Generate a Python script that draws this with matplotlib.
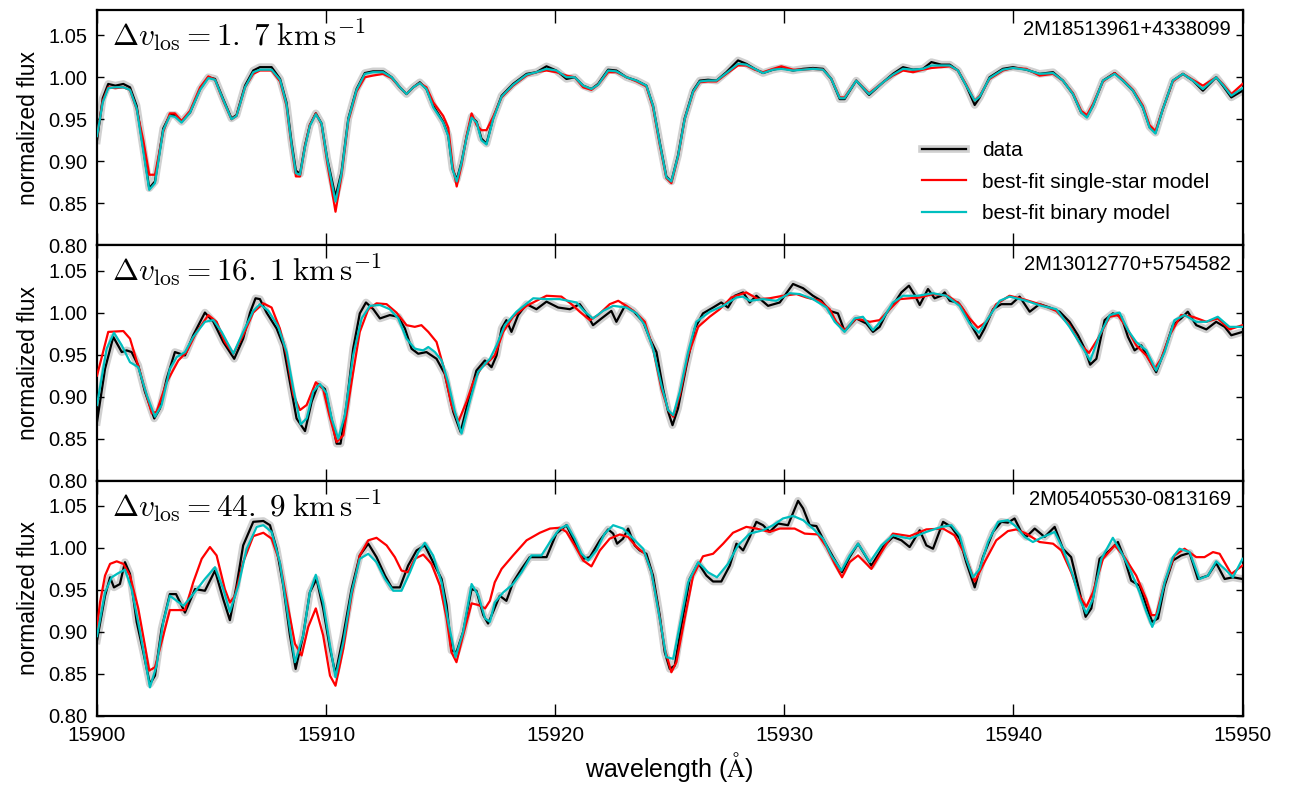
import numpy as np
import matplotlib
matplotlib.use("Agg")
import matplotlib.pyplot as plt

# ---------------- data ----------------
star_ids = ["2M18513961+4338099", "2M13012770+5754582", "2M05405530-0813169"]
dv_labels = [r"$\Delta v_{\rm los} = 1.\;7\;{\rm km\,s^{-1}}$",
             r"$\Delta v_{\rm los} = 16.\;1\;{\rm km\,s^{-1}}$",
             r"$\Delta v_{\rm los} = 44.\;9\;{\rm km\,s^{-1}}$"]
legend_labels = ["data", "best-fit single-star model", "best-fit binary model"]
x_ticks = [15900, 15910, 15920, 15930, 15940, 15950]
y_ticks = [0.80, 0.85, 0.90, 0.95, 1.00, 1.05]

# top panel: shared wavelength grid
wl_top = [
    15900.00, 15900.25, 15900.49, 15900.80, 15901.15, 15901.44, 15901.73, 15902.02, 15902.28, 15902.53,
    15902.89, 15903.18, 15903.40, 15903.69, 15904.06, 15904.50, 15904.86, 15905.15, 15905.51, 15905.87,
    15906.09, 15906.46, 15906.82, 15907.11, 15907.62, 15907.99, 15908.27, 15908.49, 15908.68, 15908.86,
    15909.08, 15909.29, 15909.55, 15909.80, 15910.05, 15910.41, 15910.67, 15910.97, 15911.33, 15911.69,
    15912.05, 15912.49, 15912.86, 15913.22, 15913.51, 15913.80, 15914.09, 15914.38, 15914.68, 15915.11,
    15915.33, 15915.52, 15915.70, 15915.91, 15916.13, 15916.35, 15916.57, 15916.78, 15917.00, 15917.29,
    15917.66, 15918.16, 15918.75, 15919.18, 15919.62, 15920.05, 15920.49, 15920.85, 15921.22, 15921.58,
    15921.87, 15922.31, 15922.67, 15923.11, 15923.55, 15923.98, 15924.27, 15924.56, 15924.85, 15925.07,
    15925.36, 15925.65, 15926.02, 15926.31, 15926.67, 15927.04, 15927.47, 15927.98, 15928.34, 15928.71,
    15929.07, 15929.51, 15929.87, 15930.38, 15930.82, 15931.25, 15931.69, 15932.05, 15932.42, 15932.63,
    15933.14, 15933.70, 15934.31, 15934.74, 15935.18, 15935.62, 15936.05, 15936.42, 15936.85, 15937.22,
    15937.58, 15937.94, 15938.31, 15938.53, 15938.96, 15939.54, 15939.98, 15940.56, 15941.14, 15941.73,
    15942.16, 15942.60, 15942.96, 15943.21, 15943.47, 15943.91, 15944.42, 15944.78, 15945.22, 15945.65,
    15945.94, 15946.20, 15946.52, 15946.96, 15947.40, 15947.83, 15948.27, 15948.85, 15949.14, 15949.51,
    15950.00]
flux_top_data = [
    0.925, 0.975, 0.992, 0.990, 0.992, 0.988, 0.966, 0.915, 0.868, 0.876,
    0.939, 0.955, 0.955, 0.947, 0.958, 0.986, 1.000, 0.998, 0.974, 0.951,
    0.955, 0.990, 1.008, 1.012, 1.012, 0.998, 0.970, 0.923, 0.889, 0.885,
    0.919, 0.943, 0.957, 0.945, 0.903, 0.858, 0.887, 0.951, 0.986, 1.005,
    1.007, 1.007, 1.000, 0.988, 0.980, 0.988, 0.994, 0.986, 0.966, 0.947,
    0.931, 0.891, 0.878, 0.899, 0.929, 0.953, 0.947, 0.927, 0.921, 0.951,
    0.978, 0.992, 1.004, 1.006, 1.013, 1.008, 0.998, 1.000, 0.990, 0.986,
    0.992, 1.009, 1.008, 1.000, 0.996, 0.990, 0.966, 0.923, 0.882, 0.876,
    0.907, 0.951, 0.984, 0.996, 0.997, 0.996, 1.006, 1.020, 1.016, 1.010,
    1.005, 1.009, 1.011, 1.008, 1.010, 1.011, 1.010, 0.998, 0.974, 0.974,
    0.996, 0.979, 0.994, 1.004, 1.012, 1.009, 1.010, 1.018, 1.015, 1.015,
    1.008, 0.990, 0.967, 0.976, 1.000, 1.010, 1.012, 1.009, 1.004, 1.006,
    0.996, 0.980, 0.958, 0.953, 0.966, 0.996, 1.005, 0.996, 0.984, 0.964,
    0.941, 0.934, 0.962, 0.996, 1.004, 0.996, 0.984, 1.000, 0.990, 0.976,
    0.984]
flux_top_single = [
    0.930, 0.972, 0.988, 0.987, 0.988, 0.985, 0.962, 0.925, 0.884, 0.884,
    0.935, 0.957, 0.957, 0.948, 0.960, 0.988, 1.001, 0.997, 0.972, 0.950,
    0.954, 0.988, 1.004, 1.008, 1.008, 0.995, 0.966, 0.918, 0.882, 0.882,
    0.918, 0.943, 0.957, 0.944, 0.898, 0.840, 0.882, 0.948, 0.983, 1.000,
    1.002, 1.004, 0.999, 0.988, 0.980, 0.988, 0.993, 0.988, 0.970, 0.954,
    0.940, 0.895, 0.870, 0.895, 0.930, 0.957, 0.943, 0.937, 0.937, 0.953,
    0.976, 0.990, 1.002, 1.006, 1.008, 1.006, 1.002, 1.000, 0.988, 0.985,
    0.991, 1.006, 1.006, 1.000, 0.995, 0.989, 0.964, 0.920, 0.880, 0.874,
    0.905, 0.950, 0.982, 0.994, 0.995, 0.995, 1.004, 1.014, 1.014, 1.009,
    1.006, 1.010, 1.013, 1.009, 1.009, 1.010, 1.009, 0.998, 0.976, 0.976,
    0.996, 0.981, 0.994, 1.002, 1.008, 1.006, 1.009, 1.011, 1.012, 1.013,
    1.008, 0.991, 0.972, 0.978, 0.998, 1.008, 1.011, 1.010, 1.002, 1.004,
    0.996, 0.981, 0.960, 0.955, 0.968, 0.995, 1.005, 0.997, 0.985, 0.966,
    0.943, 0.936, 0.962, 0.995, 1.004, 0.997, 0.990, 1.000, 0.992, 0.980,
    0.992]
flux_top_binary = [
    0.930, 0.970, 0.987, 0.988, 0.988, 0.985, 0.963, 0.912, 0.866, 0.874,
    0.937, 0.954, 0.953, 0.946, 0.958, 0.985, 0.999, 0.997, 0.973, 0.950,
    0.954, 0.988, 1.006, 1.009, 1.009, 0.997, 0.968, 0.920, 0.886, 0.884,
    0.917, 0.942, 0.956, 0.945, 0.902, 0.852, 0.885, 0.950, 0.985, 1.004,
    1.006, 1.006, 1.000, 0.988, 0.980, 0.988, 0.993, 0.986, 0.964, 0.946,
    0.930, 0.890, 0.876, 0.898, 0.928, 0.952, 0.946, 0.925, 0.920, 0.950,
    0.977, 0.991, 1.003, 1.006, 1.010, 1.008, 1.000, 1.000, 0.990, 0.986,
    0.991, 1.008, 1.007, 1.000, 0.996, 0.990, 0.966, 0.922, 0.881, 0.876,
    0.906, 0.950, 0.983, 0.995, 0.996, 0.996, 1.005, 1.016, 1.015, 1.010,
    1.005, 1.009, 1.010, 1.008, 1.009, 1.010, 1.009, 0.998, 0.975, 0.975,
    0.996, 0.980, 0.994, 1.003, 1.010, 1.009, 1.010, 1.014, 1.014, 1.014,
    1.008, 0.990, 0.972, 0.977, 0.999, 1.009, 1.011, 1.009, 1.004, 1.005,
    0.996, 0.980, 0.958, 0.952, 0.966, 0.996, 1.004, 0.996, 0.984, 0.964,
    0.940, 0.933, 0.962, 0.996, 1.004, 0.996, 0.986, 1.000, 0.991, 0.978,
    0.987]

# middle panel: (wavelength, flux) points per series
mid_data = [
    (15900.00, 0.870), (15900.35, 0.933), (15900.71, 0.971), (15901.08, 0.953), (15901.29, 0.955),
    (15901.51, 0.953), (15901.80, 0.937), (15902.09, 0.906), (15902.50, 0.874), (15902.75, 0.886),
    (15903.04, 0.921), (15903.40, 0.953), (15903.84, 0.949), (15904.20, 0.973), (15904.71, 1.000),
    (15905.08, 0.989), (15905.51, 0.965), (15905.99, 0.945), (15906.38, 0.969), (15906.68, 1.000),
    (15906.92, 1.017), (15907.11, 1.016), (15907.40, 1.000), (15907.84, 0.981), (15908.13, 0.961),
    (15908.42, 0.917), (15908.71, 0.874), (15909.08, 0.859), (15909.37, 0.894), (15909.66, 0.915),
    (15909.95, 0.909), (15910.17, 0.882), (15910.46, 0.844), (15910.63, 0.844), (15910.89, 0.890),
    (15911.18, 0.957), (15911.47, 0.999), (15911.74, 1.012), (15912.06, 1.004), (15912.35, 0.993),
    (15912.78, 0.997), (15913.15, 0.995), (15913.44, 0.981), (15913.73, 0.957), (15914.02, 0.951),
    (15914.38, 0.953), (15914.82, 0.945), (15915.18, 0.927), (15915.55, 0.882), (15915.87, 0.858),
    (15916.20, 0.894), (15916.56, 0.931), (15916.93, 0.943), (15917.22, 0.935), (15917.44, 0.949),
    (15917.66, 0.981), (15917.87, 0.991), (15918.09, 0.977), (15918.38, 0.997), (15918.75, 1.010),
    (15919.18, 1.004), (15919.62, 1.013), (15920.13, 1.006), (15920.64, 1.004), (15921.07, 1.010),
    (15921.36, 0.999), (15921.65, 0.985), (15922.02, 0.993), (15922.45, 1.002), (15922.67, 0.989),
    (15923.04, 1.008), (15923.40, 1.002), (15923.84, 0.989), (15924.13, 0.969), (15924.42, 0.953),
    (15924.71, 0.909), (15924.93, 0.882), (15925.12, 0.866), (15925.36, 0.886), (15925.73, 0.937),
    (15926.09, 0.981), (15926.45, 0.999), (15926.89, 1.006), (15927.25, 1.012), (15927.54, 1.006),
    (15927.84, 1.020), (15928.20, 1.024), (15928.49, 1.012), (15928.78, 1.020), (15929.29, 1.008),
    (15929.80, 1.012), (15930.38, 1.034), (15930.82, 1.029), (15931.25, 1.020), (15931.62, 1.014),
    (15931.98, 1.002), (15932.34, 0.999), (15932.63, 0.978), (15933.14, 0.993), (15933.58, 0.987),
    (15933.87, 0.977), (15934.16, 0.983), (15934.45, 0.999), (15934.82, 1.012), (15935.11, 1.024),
    (15935.44, 1.032), (15935.69, 1.021), (15935.91, 1.009), (15936.27, 1.028), (15936.56, 1.017),
    (15936.85, 1.020), (15937.00, 1.024), (15937.22, 1.014), (15937.58, 1.012), (15937.80, 1.004),
    (15938.16, 0.985), (15938.50, 0.969), (15938.74, 0.981), (15939.11, 1.004), (15939.47, 1.010),
    (15939.91, 1.010), (15940.27, 1.019), (15940.71, 1.001), (15941.14, 1.010), (15941.58, 1.006),
    (15942.02, 1.001), (15942.45, 0.989), (15942.82, 0.973), (15943.11, 0.957), (15943.35, 0.938),
    (15943.62, 0.945), (15943.98, 0.991), (15944.34, 0.999), (15944.71, 0.995), (15945.00, 0.971),
    (15945.29, 0.955), (15945.58, 0.961), (15945.87, 0.947), (15946.23, 0.929), (15946.60, 0.955),
    (15946.96, 0.985), (15947.32, 0.993), (15947.61, 1.001), (15947.98, 0.985), (15948.42, 0.980),
    (15948.85, 0.989), (15949.22, 0.983), (15949.51, 0.973), (15950.00, 0.977)]
mid_single = [
    (15900.00, 0.925), (15900.49, 0.977), (15901.15, 0.978), (15901.44, 0.969), (15901.88, 0.929),
    (15902.39, 0.880), (15902.60, 0.882), (15903.04, 0.917), (15903.55, 0.943), (15903.91, 0.953),
    (15904.35, 0.977), (15904.86, 0.997), (15905.22, 0.989), (15905.58, 0.965), (15905.95, 0.951),
    (15906.38, 0.973), (15906.82, 1.000), (15907.26, 1.011), (15907.62, 1.006), (15907.98, 0.981),
    (15908.28, 0.949), (15908.57, 0.902), (15908.86, 0.884), (15909.15, 0.890), (15909.55, 0.917),
    (15909.87, 0.909), (15910.14, 0.878), (15910.46, 0.846), (15910.75, 0.854), (15911.11, 0.917),
    (15911.47, 0.977), (15911.84, 1.004), (15912.20, 1.011), (15912.64, 1.010), (15913.07, 1.000),
    (15913.51, 0.985), (15913.87, 0.983), (15914.16, 0.985), (15914.46, 0.977), (15914.82, 0.965),
    (15915.11, 0.937), (15915.47, 0.890), (15915.77, 0.870), (15916.13, 0.894), (15916.42, 0.917),
    (15916.78, 0.935), (15917.07, 0.941), (15917.36, 0.949), (15917.73, 0.977), (15918.16, 0.995),
    (15918.75, 1.008), (15919.18, 1.014), (15919.62, 1.020), (15920.27, 1.019), (15920.71, 1.010),
    (15921.07, 1.001), (15921.51, 0.991), (15921.87, 0.997), (15922.38, 1.010), (15922.75, 1.014),
    (15923.11, 1.008), (15923.55, 0.999), (15923.91, 0.989), (15924.27, 0.957), (15924.64, 0.909),
    (15924.93, 0.884), (15925.15, 0.876), (15925.44, 0.902), (15925.80, 0.949), (15926.24, 0.983),
    (15926.74, 0.995), (15927.18, 1.004), (15927.69, 1.018), (15928.34, 1.024), (15928.85, 1.016),
    (15929.36, 1.017), (15929.94, 1.020), (15930.53, 1.022), (15930.96, 1.018), (15931.54, 1.014),
    (15931.98, 1.004), (15932.27, 0.989), (15932.63, 0.979), (15933.14, 0.993), (15933.73, 0.989),
    (15934.16, 0.991), (15934.60, 1.004), (15935.04, 1.016), (15935.91, 1.018), (15936.49, 1.022),
    (15937.14, 1.020), (15937.65, 1.010), (15938.09, 0.993), (15938.45, 0.982), (15938.82, 0.989),
    (15939.25, 1.010), (15939.83, 1.020), (15940.42, 1.016), (15941.14, 1.010), (15941.87, 1.002),
    (15942.45, 0.985), (15942.96, 0.961), (15943.30, 0.952), (15943.69, 0.969), (15944.20, 0.995),
    (15944.56, 0.997), (15944.92, 0.983), (15945.36, 0.961), (15945.80, 0.949), (15946.16, 0.933),
    (15946.45, 0.945), (15946.82, 0.973), (15947.32, 0.997), (15947.83, 0.995), (15948.42, 0.989),
    (15948.92, 0.993), (15949.43, 0.980), (15950.00, 0.985)]
mid_binary = [
    (15900.00, 0.890), (15900.42, 0.957), (15900.74, 0.976), (15901.08, 0.961), (15901.44, 0.941),
    (15901.80, 0.935), (15902.17, 0.902), (15902.53, 0.876), (15902.82, 0.890), (15903.18, 0.933),
    (15903.48, 0.947), (15903.84, 0.953), (15904.20, 0.971), (15904.71, 0.989), (15905.08, 0.991),
    (15905.44, 0.977), (15905.95, 0.951), (15906.38, 0.977), (15906.82, 1.002), (15907.11, 1.010),
    (15907.48, 1.002), (15907.91, 0.983), (15908.28, 0.953), (15908.57, 0.909), (15908.89, 0.867),
    (15909.15, 0.874), (15909.44, 0.906), (15909.73, 0.915), (15910.02, 0.904), (15910.24, 0.874),
    (15910.53, 0.850), (15910.82, 0.878), (15911.18, 0.949), (15911.55, 0.993), (15911.91, 1.008),
    (15912.35, 1.009), (15912.78, 1.004), (15913.15, 0.993), (15913.51, 0.969), (15913.87, 0.957),
    (15914.24, 0.955), (15914.46, 0.959), (15914.75, 0.953), (15915.04, 0.943), (15915.33, 0.917),
    (15915.62, 0.882), (15915.91, 0.856), (15916.27, 0.894), (15916.63, 0.929), (15917.00, 0.941),
    (15917.15, 0.945), (15917.44, 0.961), (15917.80, 0.985), (15918.31, 1.001), (15919.04, 1.017),
    (15919.62, 1.016), (15920.20, 1.016), (15920.93, 1.012), (15921.29, 1.001), (15921.65, 0.993),
    (15922.09, 1.002), (15922.53, 1.008), (15923.11, 1.006), (15923.55, 0.999), (15923.91, 0.985),
    (15924.27, 0.957), (15924.64, 0.913), (15924.93, 0.884), (15925.15, 0.878), (15925.44, 0.906),
    (15925.80, 0.953), (15926.16, 0.989), (15926.74, 1.001), (15927.33, 1.008), (15927.91, 1.018),
    (15928.20, 1.019), (15928.49, 1.014), (15929.07, 1.016), (15929.65, 1.014), (15930.24, 1.023),
    (15930.67, 1.022), (15931.25, 1.016), (15931.84, 1.006), (15932.20, 0.989), (15932.63, 0.977),
    (15933.07, 0.993), (15933.43, 0.995), (15933.87, 0.979), (15934.31, 0.993), (15934.74, 1.012),
    (15935.18, 1.020), (15935.83, 1.020), (15936.49, 1.023), (15937.07, 1.020), (15937.65, 1.008),
    (15938.09, 0.987), (15938.50, 0.976), (15938.89, 0.993), (15939.40, 1.014), (15939.83, 1.019),
    (15940.56, 1.014), (15941.22, 1.008), (15941.87, 1.004), (15942.45, 0.983), (15942.96, 0.961),
    (15943.35, 0.943), (15943.76, 0.973), (15944.20, 0.997), (15944.63, 1.000), (15945.00, 0.979),
    (15945.36, 0.965), (15945.80, 0.955), (15946.23, 0.931), (15946.60, 0.953), (15947.03, 0.991),
    (15947.47, 0.997), (15947.98, 0.989), (15948.42, 0.989), (15948.92, 0.995), (15949.43, 0.983),
    (15950.00, 0.983)]

# bottom panel
bot_data = [
    (15900.00, 0.890), (15900.35, 0.943), (15900.57, 0.965), (15900.74, 0.953), (15901.00, 0.957),
    (15901.22, 0.983), (15901.44, 0.969), (15901.73, 0.912), (15902.02, 0.876), (15902.31, 0.838),
    (15902.53, 0.848), (15902.82, 0.904), (15903.18, 0.945), (15903.45, 0.945), (15903.84, 0.923),
    (15904.28, 0.951), (15904.71, 0.949), (15905.15, 0.973), (15905.51, 0.939), (15905.80, 0.914),
    (15906.09, 0.955), (15906.38, 1.003), (15906.82, 1.031), (15907.26, 1.032), (15907.55, 1.027),
    (15907.84, 0.999), (15908.13, 0.955), (15908.42, 0.896), (15908.67, 0.856), (15909.00, 0.896),
    (15909.29, 0.947), (15909.58, 0.963), (15909.87, 0.928), (15910.17, 0.880), (15910.41, 0.850),
    (15910.75, 0.896), (15911.11, 0.951), (15911.47, 0.991), (15911.84, 1.005), (15912.20, 0.989),
    (15912.57, 0.967), (15912.86, 0.953), (15913.22, 0.953), (15913.58, 0.979), (15913.95, 0.997),
    (15914.31, 1.003), (15914.67, 0.983), (15915.04, 0.963), (15915.26, 0.932), (15915.47, 0.878),
    (15915.69, 0.876), (15915.98, 0.900), (15916.35, 0.951), (15916.56, 0.949), (15916.86, 0.920),
    (15917.07, 0.910), (15917.29, 0.924), (15917.58, 0.943), (15917.87, 0.937), (15918.16, 0.959),
    (15918.53, 0.975), (15918.89, 0.989), (15919.26, 0.989), (15919.62, 0.989), (15920.05, 1.017),
    (15920.49, 1.027), (15920.85, 1.007), (15921.22, 0.987), (15921.51, 0.989), (15921.95, 1.009),
    (15922.31, 1.022), (15922.53, 1.017), (15922.70, 1.005), (15922.96, 1.011), (15923.18, 1.023),
    (15923.47, 1.003), (15923.69, 0.997), (15923.98, 0.993), (15924.27, 0.967), (15924.56, 0.920),
    (15924.78, 0.876), (15925.00, 0.856), (15925.22, 0.860), (15925.51, 0.908), (15925.87, 0.963),
    (15926.24, 0.982), (15926.60, 0.967), (15926.89, 0.960), (15927.25, 0.960), (15927.62, 0.979),
    (15927.91, 1.005), (15928.20, 0.997), (15928.49, 1.013), (15928.78, 1.031), (15929.07, 1.027),
    (15929.36, 1.019), (15929.73, 1.029), (15930.16, 1.027), (15930.60, 1.056), (15930.82, 1.047),
    (15931.11, 1.027), (15931.40, 1.026), (15931.76, 1.007), (15932.13, 0.989), (15932.52, 0.971),
    (15932.85, 0.989), (15933.22, 1.005), (15933.80, 0.979), (15934.31, 1.001), (15934.74, 1.013),
    (15935.11, 1.009), (15935.47, 1.001), (15935.91, 1.021), (15936.20, 1.003), (15936.49, 0.999),
    (15936.93, 1.031), (15937.29, 1.025), (15937.65, 1.011), (15937.94, 0.983), (15938.31, 0.953),
    (15938.67, 0.989), (15939.11, 1.019), (15939.47, 1.031), (15939.76, 1.030), (15940.05, 1.035),
    (15940.34, 1.019), (15940.56, 1.013), (15940.93, 1.023), (15941.36, 1.013), (15941.80, 1.025),
    (15942.16, 0.999), (15942.52, 0.989), (15942.82, 0.955), (15943.15, 0.918), (15943.40, 0.928),
    (15943.76, 0.987), (15944.20, 0.997), (15944.56, 1.007), (15944.85, 0.987), (15945.14, 0.961),
    (15945.51, 0.955), (15945.80, 0.931), (15946.06, 0.912), (15946.31, 0.916), (15946.60, 0.955),
    (15946.96, 0.985), (15947.32, 0.991), (15947.69, 0.994), (15948.05, 0.963), (15948.49, 0.967),
    (15948.85, 0.982), (15949.22, 0.963), (15949.58, 0.965), (15950.00, 0.963)]
bot_single = [
    (15900.00, 0.905), (15900.13, 0.935), (15900.35, 0.967), (15900.57, 0.981), (15900.86, 0.984),
    (15901.15, 0.981), (15901.44, 0.967), (15901.80, 0.928), (15902.09, 0.884), (15902.28, 0.854),
    (15902.53, 0.858), (15902.82, 0.888), (15903.18, 0.926), (15903.55, 0.926), (15903.84, 0.926),
    (15904.20, 0.959), (15904.57, 0.987), (15904.93, 1.001), (15905.22, 0.991), (15905.58, 0.951),
    (15905.80, 0.935), (15906.02, 0.943), (15906.38, 0.983), (15906.82, 1.014), (15907.26, 1.018),
    (15907.62, 1.011), (15907.98, 0.983), (15908.35, 0.928), (15908.64, 0.886), (15908.93, 0.872),
    (15909.22, 0.906), (15909.55, 0.928), (15909.87, 0.896), (15910.17, 0.848), (15910.41, 0.836),
    (15910.75, 0.880), (15911.11, 0.943), (15911.47, 0.991), (15911.84, 1.009), (15912.20, 1.012),
    (15912.64, 1.003), (15913.00, 0.989), (15913.29, 0.973), (15913.58, 0.971), (15913.87, 0.987),
    (15914.24, 0.992), (15914.60, 0.981), (15914.97, 0.955), (15915.26, 0.916), (15915.47, 0.876),
    (15915.69, 0.864), (15915.98, 0.896), (15916.35, 0.934), (15916.65, 0.932), (15916.94, 0.928),
    (15917.15, 0.937), (15917.36, 0.959), (15917.66, 0.975), (15918.16, 0.991), (15918.75, 1.009),
    (15919.33, 1.018), (15919.77, 1.023), (15920.20, 1.024), (15920.49, 1.019), (15920.85, 1.003),
    (15921.22, 0.985), (15921.58, 0.978), (15921.95, 0.997), (15922.38, 1.011), (15922.82, 1.016),
    (15923.18, 1.013), (15923.55, 1.001), (15923.91, 0.993), (15924.20, 0.971), (15924.49, 0.928),
    (15924.78, 0.880), (15925.07, 0.852), (15925.29, 0.864), (15925.65, 0.916), (15926.02, 0.967),
    (15926.45, 0.990), (15926.89, 0.993), (15927.33, 1.005), (15927.76, 1.018), (15928.34, 1.025),
    (15928.78, 1.023), (15929.36, 1.019), (15929.80, 1.023), (15930.45, 1.023), (15930.89, 1.017),
    (15931.47, 1.016), (15931.84, 1.001), (15932.20, 0.981), (15932.52, 0.965), (15932.85, 0.983),
    (15933.22, 0.991), (15933.80, 0.975), (15934.24, 0.995), (15934.74, 1.017), (15935.47, 1.014),
    (15936.20, 1.022), (15936.93, 1.023), (15937.43, 1.015), (15937.87, 0.993), (15938.31, 0.960),
    (15938.74, 0.983), (15939.25, 1.009), (15939.76, 1.020), (15940.13, 1.022), (15940.56, 1.017),
    (15941.14, 1.007), (15941.73, 1.005), (15942.09, 0.997), (15942.52, 0.971), (15942.89, 0.943),
    (15943.18, 0.930), (15943.47, 0.947), (15943.91, 0.987), (15944.42, 1.003), (15944.85, 0.989),
    (15945.36, 0.967), (15945.80, 0.939), (15946.02, 0.920), (15946.23, 0.920), (15946.60, 0.959),
    (15947.03, 0.991), (15947.47, 0.999), (15947.98, 0.989), (15948.34, 0.989), (15948.71, 0.995),
    (15949.00, 0.993), (15949.51, 0.969), (15950.00, 0.979)]
bot_binary = [
    (15900.00, 0.895), (15900.35, 0.947), (15900.64, 0.965), (15900.93, 0.970), (15901.22, 0.974),
    (15901.51, 0.951), (15901.88, 0.900), (15902.31, 0.834), (15902.60, 0.860), (15902.89, 0.912),
    (15903.18, 0.943), (15903.48, 0.937), (15903.77, 0.931), (15904.20, 0.945), (15904.71, 0.963),
    (15905.15, 0.977), (15905.51, 0.951), (15905.80, 0.924), (15906.17, 0.955), (15906.53, 0.999),
    (15906.97, 1.025), (15907.26, 1.027), (15907.62, 1.019), (15907.98, 0.983), (15908.35, 0.916),
    (15908.64, 0.864), (15909.00, 0.896), (15909.29, 0.947), (15909.55, 0.968), (15909.87, 0.935),
    (15910.17, 0.884), (15910.41, 0.846), (15910.75, 0.888), (15911.11, 0.947), (15911.47, 0.987),
    (15911.84, 0.993), (15912.20, 0.983), (15912.57, 0.963), (15912.93, 0.949), (15913.29, 0.949),
    (15913.66, 0.971), (15914.02, 0.995), (15914.31, 1.006), (15914.67, 0.991), (15915.04, 0.959),
    (15915.33, 0.912), (15915.65, 0.870), (15915.98, 0.900), (15916.35, 0.957), (15916.65, 0.943),
    (15916.94, 0.916), (15917.15, 0.912), (15917.36, 0.935), (15917.73, 0.947), (15918.16, 0.957),
    (15918.53, 0.971), (15918.96, 0.991), (15919.40, 0.991), (15919.77, 1.007), (15920.20, 1.023),
    (15920.52, 1.027), (15920.85, 1.011), (15921.15, 0.993), (15921.44, 0.985), (15921.80, 0.997),
    (15922.16, 1.017), (15922.53, 1.027), (15922.96, 1.023), (15923.40, 1.011), (15923.84, 0.999),
    (15924.20, 0.971), (15924.56, 0.916), (15924.85, 0.870), (15925.15, 0.868), (15925.44, 0.908),
    (15925.80, 0.959), (15926.24, 0.983), (15926.67, 0.971), (15927.06, 0.965), (15927.54, 0.981),
    (15927.98, 1.003), (15928.49, 1.017), (15929.07, 1.021), (15929.51, 1.027), (15929.94, 1.035),
    (15930.38, 1.038), (15930.82, 1.033), (15931.25, 1.023), (15931.69, 1.011), (15932.05, 0.991),
    (15932.49, 0.973), (15932.85, 0.991), (15933.22, 1.005), (15933.73, 0.983), (15934.24, 1.003),
    (15934.74, 1.015), (15935.47, 1.011), (15936.20, 1.019), (15936.85, 1.025), (15937.29, 1.027),
    (15937.65, 1.015), (15937.94, 0.987), (15938.23, 0.965), (15938.53, 0.975), (15938.89, 1.007),
    (15939.33, 1.031), (15939.76, 1.033), (15940.13, 1.025), (15940.49, 1.013), (15940.85, 1.007),
    (15941.29, 1.013), (15941.80, 1.019), (15942.16, 0.999), (15942.60, 0.967), (15942.89, 0.939),
    (15943.18, 0.922), (15943.47, 0.939), (15943.84, 0.987), (15944.34, 1.012), (15944.78, 0.991),
    (15945.14, 0.971), (15945.51, 0.947), (15945.80, 0.924), (15946.06, 0.906), (15946.31, 0.924),
    (15946.60, 0.959), (15946.96, 0.989), (15947.25, 0.999), (15947.69, 0.995), (15948.12, 0.963),
    (15948.49, 0.967), (15948.85, 0.984), (15949.22, 0.975), (15949.58, 0.965), (15950.00, 0.987)]

# ---------------- styling ----------------
plt.rcParams['font.family'] = ['Liberation Sans', 'DejaVu Sans']
plt.rcParams['mathtext.fontset'] = 'cm'

C_DATA = 'black'
C_BAND = '#d0d0d0'
C_SINGLE = '#ff0000'
C_BINARY = '#00bfbf'

fig = plt.figure(figsize=(12.9, 7.88), dpi=100)
axes = fig.subplots(3, 1, sharex=True)
fig.subplots_adjust(left=0.0752, right=0.9632, bottom=0.0914, top=0.9873, hspace=0)


def split(points):
    arr = np.array(points)
    return arr[:, 0], arr[:, 1]


panels = [
    ((wl_top, flux_top_data), (wl_top, flux_top_single), (wl_top, flux_top_binary)),
    (split(mid_data), split(mid_single), split(mid_binary)),
    (split(bot_data), split(bot_single), split(bot_binary)),
]

for i, (ax, (d, s, b)) in enumerate(zip(axes, panels)):
    band, = ax.plot(d[0], d[1], color=C_BAND, lw=5.5, solid_joinstyle='round', zorder=1)
    dl, = ax.plot(d[0], d[1], color=C_DATA, lw=1.6, zorder=2)
    sl, = ax.plot(s[0], s[1], color=C_SINGLE, lw=1.6, zorder=3)
    bl, = ax.plot(b[0], b[1], color=C_BINARY, lw=1.6, zorder=4)
    ax.set_xlim(15900, 15950)
    ax.set_ylim(0.80, 1.08)
    ax.set_yticks(y_ticks)
    ax.set_yticklabels(["%.2f" % v for v in y_ticks])
    ax.set_xticks(x_ticks)
    ax.ticklabel_format(axis='x', useOffset=False, style='plain')
    ax.tick_params(axis='x', direction='in', top=True, bottom=True, length=9, width=1,
                   labelsize=15, pad=7)
    ax.tick_params(axis='y', direction='in', left=True, right=True, length=5, width=1,
                   labelsize=14.5, pad=7)
    for sp in ax.spines.values():
        sp.set_linewidth(1.6)
    ax.set_ylabel("normalized flux", fontsize=16.5, labelpad=6)
    ax.text(0.013, 0.85, dv_labels[i], transform=ax.transAxes, ha='left', va='baseline',
            fontsize=22.5)
    ax.text(0.990, 0.895, star_ids[i], transform=ax.transAxes, ha='right', va='baseline',
            fontsize=14.5)
    if i == 0:
        ax.legend([(band, dl), sl, bl], legend_labels, loc='upper left',
                  bbox_to_anchor=(0.72, 0.443), frameon=False, fontsize=15,
                  handlelength=2.1, handletextpad=0.8, labelspacing=0.6,
                  borderpad=0, borderaxespad=0)
    if i < 2:
        ax.tick_params(axis='x', labelbottom=False)

axes[2].set_xlabel(r"wavelength ($\rm\AA$)", fontsize=18, labelpad=4)

fig.savefig("out.png", dpi=100)
